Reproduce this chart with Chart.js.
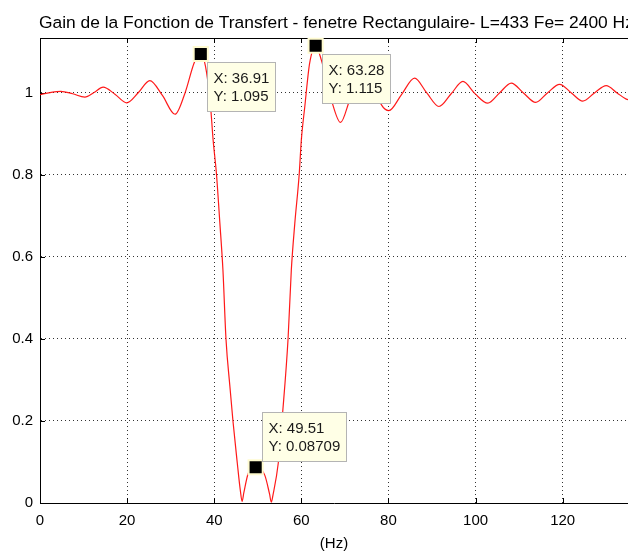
<!DOCTYPE html>
<html>
<head>
<meta charset="utf-8">
<script src="https://cdn.jsdelivr.net/npm/chart.js@4.4.1/dist/chart.umd.min.js"></script>
<style>
  html, body { margin: 0; padding: 0; background: #fff; }
</style>
</head>
<body>
<canvas id="gainChart" width="628" height="553"></canvas>
<script>
// Gain of the notch filter
const titleText = 'Gain de la Fonction de Transfert - fenetre Rectangulaire- L=433 Fe= 2400 Hz';
const freqHz = [0, 2.3, 4.8, 7.5, 10.3, 12.4, 14.5, 17.2, 19.9, 22.6, 25.2, 28.1, 31.0, 33.3, 35.5, 36.9,
  38.0, 39.1, 39.75, 40.5, 41.3, 42.0, 42.7, 43.6, 44.3, 45.3, 46.0, 46.4, 46.8, 47.8, 49.5, 51.6, 52.7, 53.1, 53.5,
  54.7, 55.7, 56.95, 57.7, 58.5, 59.5, 60.0, 60.8, 61.9, 63.3, 64.6, 66.9, 69.0, 71.1, 72.8, 74.7, 76.6,
  78.4, 80.1, 83.0, 86.0, 88.8, 91.6, 94.4, 97.1, 99.8, 102.8, 105.5, 108.2, 111.0, 113.8, 116.5, 119.3,
  122.0, 124.6, 127.3, 130.0, 132.5, 134.6, 136];
const gain = [0.996, 1.001, 1.004, 0.998, 0.990, 1.001, 1.014, 0.997, 0.976, 1.001, 1.030, 0.994, 0.948, 1.000, 1.076, 1.095,
  1.065, 0.975, 0.885, 0.804, 0.682, 0.568, 0.400, 0.284, 0.200, 0.097, 0.030, 0.004, 0.025, 0.072, 0.087, 0.068, 0.022, 0.002, 0.020,
  0.097, 0.219, 0.400, 0.568, 0.682, 0.800, 0.885, 0.967, 1.072, 1.115, 1.080, 0.983, 0.928, 0.983, 1.030, 1.050, 1.020,
  0.971, 0.957, 0.996, 1.036, 1.000, 0.967, 0.998, 1.028, 0.999, 0.975, 1.000, 1.024, 1.000, 0.977, 1.000, 1.021,
  1.000, 0.980, 1.000, 1.018, 1.000, 0.985, 0.982];

// data tips
const tipX = [36.91, 63.28, 49.51];
const tipY = [1.095, 1.115, 0.08709];

const xTicks = [0, 20, 40, 60, 80, 100, 120];
const yTicks = [0, 0.2, 0.4, 0.6, 0.8, 1];

const FONT = '"Liberation Sans", Arial, sans-serif';
const tipSide = ['below', 'below', 'above'];

const framePlugin = {
  id: 'matlabFrame',
  beforeDatasetsDraw(chart) {
    const {ctx, chartArea: a, scales: {x, y}} = chart;
    ctx.save();
    ctx.strokeStyle = '#000';
    ctx.lineWidth = 1;
    ctx.beginPath();
    ctx.moveTo(a.left, a.top + 0.5);
    ctx.lineTo(a.right, a.top + 0.5);
    xTicks.forEach(v => {
      const px = Math.round(x.getPixelForValue(v)) + 0.5;
      ctx.moveTo(px, a.bottom); ctx.lineTo(px, a.bottom - 5);
      ctx.moveTo(px, a.top); ctx.lineTo(px, a.top + 5);
    });
    yTicks.forEach(v => {
      const py = Math.round(y.getPixelForValue(v)) + 0.5;
      ctx.moveTo(a.left, py); ctx.lineTo(a.left + 5, py);
    });
    ctx.stroke();
    ctx.restore();
  },
  afterDatasetsDraw(chart) {
    const {ctx, scales: {x, y}} = chart;
    ctx.save();
    ctx.font = '15px ' + FONT;
    ctx.lineWidth = 1;
    tipX.forEach((xv, i) => {
      const px = x.getPixelForValue(xv), py = y.getPixelForValue(tipY[i]);
      const lines = ['X: ' + xv, 'Y: ' + tipY[i]];
      const w = Math.round(Math.max(...lines.map(l => ctx.measureText(l).width)) + 12);
      const h = 49;
      const left = Math.round(px + 6) + 0.5;
      const top = (tipSide[i] === 'below' ? Math.round(py + 8) : Math.round(py - 6 - h)) + 0.5;
      ctx.fillStyle = '#ffffe6';
      ctx.fillRect(left, top, w, h);
      ctx.strokeStyle = '#b4b4b4';
      ctx.strokeRect(left, top, w, h);
      ctx.fillStyle = '#1a1a1a';
      ctx.textAlign = 'left';
      ctx.textBaseline = 'middle';
      ctx.fillText(lines[0], left + 6, top + 16.5);
      ctx.fillText(lines[1], left + 6, top + 34);
    });
    ctx.restore();
  },
  afterDraw(chart) {
    const ctx = chart.ctx;
    ctx.save();
    ctx.font = '17.4px ' + FONT;
    ctx.fillStyle = '#000';
    ctx.textAlign = 'left';
    ctx.textBaseline = 'alphabetic';
    ctx.fillText(titleText, 39, 28);
    ctx.restore();
  }
};

const ctx = document.getElementById('gainChart').getContext('2d');
new Chart(ctx, {
  type: 'line',
  data: {
    datasets: [{
      order: 2,
      data: freqHz.map((f, i) => ({x: f, y: gain[i]})),
      borderColor: 'rgba(255, 0, 0, 0.9)',
      borderWidth: 1.2,
      pointRadius: 0,
      cubicInterpolationMode: 'monotone',
      fill: false
    }, {
      order: 1,
      type: 'scatter',
      data: tipX.map((f, i) => ({x: f, y: tipY[i]})),
      pointStyle: 'rect',
      pointRadius: 10,
      pointHoverRadius: 10,
      backgroundColor: '#000',
      borderColor: '#fffbd0',
      borderWidth: 2,
      clip: false
    }]
  },
  options: {
    responsive: false,
    animation: false,
    devicePixelRatio: 1,
    layout: { autoPadding: false, padding: { top: 38, left: 0, right: 0, bottom: 0 } },
    plugins: {
      legend: { display: false },
      tooltip: { enabled: false }
    },
    scales: {
      x: {
        type: 'linear',
        min: 0,
        max: 135,
        afterBuildTicks: s => { s.ticks = xTicks.map(v => ({value: v})); },
        afterFit: s => { s.height = 50; s.paddingRight = 0; },
        grid: { color: 'rgba(0,0,0,0.8)', drawTicks: false },
        border: { color: '#000', width: 1, dash: [1, 3] },
        ticks: { color: '#000', padding: 9, font: { family: FONT, size: 15 }, maxRotation: 0, callback: v => String(v) },
        title: { display: true, text: '(Hz)', color: '#000', font: { family: FONT, size: 15 }, padding: { top: 0, bottom: 0 } }
      },
      y: {
        min: 0,
        max: 1.134,
        afterBuildTicks: s => { s.ticks = yTicks.map(v => ({value: v})); },
        afterFit: s => { s.width = 40; s.paddingTop = 0; s.paddingBottom = 0; },
        grid: { color: 'rgba(0,0,0,0.8)', drawTicks: false },
        border: { color: '#000', width: 1, dash: [1, 3] },
        ticks: { color: '#000', padding: 7, font: { family: FONT, size: 15 }, callback: v => String(v) }
      }
    }
  },
  plugins: [framePlugin]
});
</script>
</body>
</html>
